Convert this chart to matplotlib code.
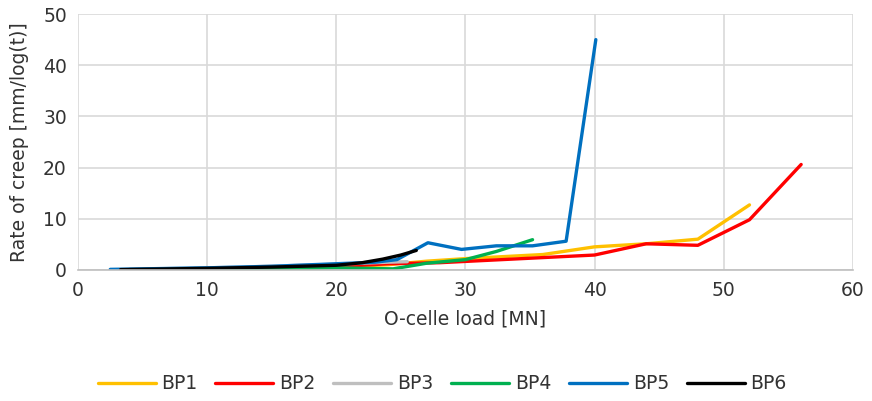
import matplotlib.pyplot as plt

# BP1 - BP6 creep rate vs O-cell load
bp1_x = [5, 10, 15, 20, 24, 27, 30, 36, 40, 44, 48, 52]
bp1_y = [0.1, 0.2, 0.35, 0.6, 1.0, 1.7, 2.2, 3.0, 4.5, 5.1, 6.0, 12.7]

bp2_x = [4, 8, 12, 16, 20, 24, 28, 32, 36, 40, 44, 48, 52, 56]
bp2_y = [0.05, 0.1, 0.2, 0.35, 0.6, 1.2, 1.4, 1.9, 2.4, 2.9, 5.1, 4.8, 9.8, 20.6]

bp3_x = [4, 8, 12, 16, 20, 24, 25.5]
bp3_y = [0.1, 0.3, 0.5, 0.8, 1.1, 1.5, 1.6]

bp4_x = [4, 8, 12, 16, 20, 24.4, 27, 30, 32.4, 35.2]
bp4_y = [0.0, 0.05, 0.1, 0.2, 0.4, 0.2, 1.3, 2.0, 3.6, 5.9]

bp5_x = [2.5, 5, 10, 15, 20, 23, 24.7, 27.1, 29.7, 32.4, 35.2, 37.8, 40.1]
bp5_y = [0.1, 0.2, 0.4, 0.7, 1.2, 1.5, 2.0, 5.3, 4.0, 4.7, 4.7, 5.6, 45]

bp6_x = [3.3, 6, 10, 15, 20, 22, 23.6, 25, 26.2]
bp6_y = [0.05, 0.15, 0.3, 0.55, 0.9, 1.4, 2.1, 2.9, 3.8]

series = [
    ('BP1', bp1_x, bp1_y, '#FFC000'),
    ('BP2', bp2_x, bp2_y, '#FF0000'),
    ('BP3', bp3_x, bp3_y, '#BFBFBF'),
    ('BP4', bp4_x, bp4_y, '#00B050'),
    ('BP5', bp5_x, bp5_y, '#0070C0'),
    ('BP6', bp6_x, bp6_y, '#000000'),
]

txt = '#333333'
fs = 13.5
fig = plt.figure(figsize=(8.72, 4.01), dpi=100)
ax = fig.add_axes([0.0894, 0.327, 0.8886, 0.638])

for name, x, y, c in series:
    ax.plot(x, y, color=c, lw=2.4, label=name, solid_capstyle='round')

ax.set_xlim(0, 60)
ax.set_ylim(0, 50)
ax.set_xticks(range(0, 61, 10))
ax.set_yticks(range(0, 51, 10))
ax.grid(True, color='#D9D9D9', lw=1.2)
ax.set_axisbelow(True)
for s in ['top', 'right', 'left']:
    ax.spines[s].set_visible(False)
ax.spines['bottom'].set_color('#BFBFBF')
ax.spines['bottom'].set_linewidth(1.2)
ax.tick_params(length=0, labelsize=fs, labelcolor=txt, pad=8)

ax.set_xlabel('O-celle load [MN]', fontsize=fs, color=txt, labelpad=7)
ax.set_ylabel('Rate of creep [mm/log(t)]', fontsize=fs, color=txt, labelpad=10)

ax.legend(loc='center', bbox_to_anchor=(0.47, -0.445), ncol=6, frameon=False,
          fontsize=fs, handlelength=3.1, columnspacing=0.95, handletextpad=0.3,
          labelcolor=txt)

fig.savefig('out.png')
